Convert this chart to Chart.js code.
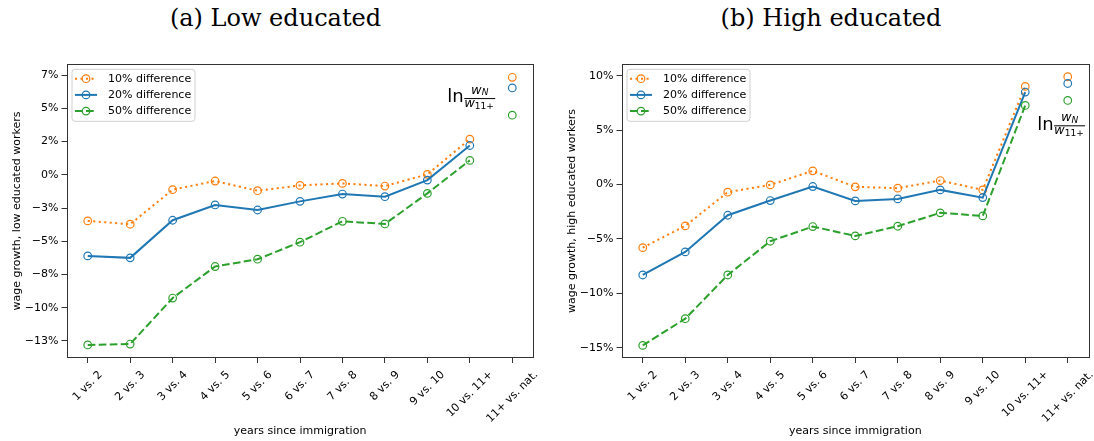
<!DOCTYPE html>
<html>
<head>
<meta charset="utf-8">
<script src="https://cdn.jsdelivr.net/npm/chart.js@4.4.1/dist/chart.umd.min.js"></script>
<style>
  body { margin: 0; background: #fff; width: 1094px; height: 441px; position: relative; overflow: hidden; }
  canvas { position: absolute; top: 0; }
  .ttl { position: absolute; top: 4px; font-family: "DejaVu Serif"; font-size: 24px; text-align: center; color: #000; white-space: nowrap; }
</style>
</head>
<body>
<div class="ttl" style="left:0;width:551px">(a) Low educated</div>
<div class="ttl" style="left:547px;width:568px">(b) High educated</div>
<canvas id="low" width="547" height="441" style="left:0"></canvas>
<canvas id="high" width="547" height="441" style="left:547px"></canvas>
<script>
// categories
const periods = ['1 vs. 2', '2 vs. 3', '3 vs. 4', '4 vs. 5', '5 vs. 6', '6 vs. 7',
                 '7 vs. 8', '8 vs. 9', '9 vs. 10', '10 vs. 11+', '11+ vs. nat.'];

// low educated, % wage growth
const lowTen    = [-3.47, -3.72, -1.12, -0.47, -1.2, -0.8, -0.65, -0.85, 0.03, 2.68];
const lowTwenty = [-6.1, -6.25, -3.42, -2.27, -2.65, -2.0, -1.45, -1.65, -0.4, 2.2];
const lowFifty  = [-12.8, -12.73, -9.27, -6.9, -6.35, -5.07, -3.5, -3.7, -1.4, 1.08];
const lowNative = [7.33, 6.53, 4.48];   // 11+ vs. nat. (10%, 20%, 50%)

// high educated
const highTen    = [-5.8, -3.8, -0.7, -0.03, 1.26, -0.21, -0.33, 0.37, -0.49, 9.02];
const highTwenty = [-8.31, -6.19, -2.82, -1.47, -0.18, -1.5, -1.32, -0.49, -1.2, 8.5];
const highFifty  = [-14.78, -12.33, -8.31, -5.21, -3.86, -4.72, -3.83, -2.6, -2.88, 7.27];
const highNative = [9.91, 9.29, 7.73];

// tick labels
const lowTickVals = [7.5, 5, 2.5, 0, -2.5, -5, -7.5, -10, -12.5];
const lowTickLabels = ['7%', '5%', '2%', '0%', '\u22123%', '\u22125%', '\u22128%', '\u221210%', '\u221213%'];
const highTickVals = [10, 5, 0, -5, -10, -15];
const highTickLabels = ['10%', '5%', '0%', '\u22125%', '\u221210%', '\u221215%'];

const seriesNames = ['10% difference', '20% difference', '50% difference'];
const seriesColors = ['#ff7f0e', '#1f77b4', '#2ca02c'];
const seriesDash = [[2.1, 3.4], [], [7.7, 3.3]];

Chart.defaults.font.family = 'DejaVu Sans';
Chart.defaults.color = '#000';

function buildDatasets(vals, nat) {
  const ds = [];
  vals.forEach(function (v, i) {
    const style = {
      borderColor: seriesColors[i], pointBorderColor: seriesColors[i],
      pointBackgroundColor: 'rgba(0,0,0,0)', borderWidth: 2, borderDash: seriesDash[i],
      pointRadius: 3.8, pointBorderWidth: 1.2, pointHoverRadius: 3.8,
      order: 3 - i, fill: false, tension: 0
    };
    ds.push(Object.assign({ label: seriesNames[i], data: v.concat([null]) }, style));
    ds.push(Object.assign({
      label: '',
      data: periods.map(function (p, k) { return k === periods.length - 1 ? nat[i] : null; }),
      showLine: false
    }, style));
  });
  return ds;
}

function makeChart(id, vals, nat, cfg) {
  const extras = {
    id: 'extras',
    afterDatasetsDraw(chart) {
      const ctx = chart.ctx, a = chart.chartArea;
      ctx.save();
      // frame
      ctx.strokeStyle = '#333';
      ctx.lineWidth = 1;
      ctx.strokeRect(Math.round(a.left) + 0.5, Math.round(a.top) + 0.5,
                     Math.round(a.right - a.left) - 1, Math.round(a.bottom - a.top) - 1);

      // x tick labels, rotated 45deg and centred on the tick (matplotlib style)
      const xs = chart.scales.x;
      ctx.font = '11px "DejaVu Sans"';
      ctx.fillStyle = '#000';
      ctx.textAlign = 'center';
      ctx.textBaseline = 'middle';
      periods.forEach(function (p, k) {
        const tx = xs.getPixelForValue(k);
        const side = (ctx.measureText(p).width + 12.5) * Math.SQRT1_2;
        ctx.save();
        ctx.translate(tx, a.bottom + 5 + 5.5 + side / 2);
        ctx.rotate(-Math.PI / 4);
        ctx.fillText(p, 0, 0);
        ctx.restore();
      });

      // legend box
      const x = a.left + 5.5, y = a.top + 5.3, w = 123, h = 52, r = 3;
      ctx.beginPath();
      ctx.moveTo(x + r, y);
      ctx.arcTo(x + w, y, x + w, y + h, r);
      ctx.arcTo(x + w, y + h, x, y + h, r);
      ctx.arcTo(x, y + h, x, y, r);
      ctx.arcTo(x, y, x + w, y, r);
      ctx.closePath();
      ctx.fillStyle = 'rgba(255,255,255,0.8)';
      ctx.fill();
      ctx.strokeStyle = '#d0d0d0';
      ctx.stroke();
      seriesNames.forEach(function (name, i) {
        const ry = y + 9.4 + i * 16.2;
        ctx.strokeStyle = seriesColors[i];
        ctx.lineWidth = 2;
        ctx.setLineDash(seriesDash[i]);
        ctx.beginPath(); ctx.moveTo(x + 3, ry); ctx.lineTo(x + 25, ry); ctx.stroke();
        ctx.setLineDash([]);
        ctx.lineWidth = 1.2;
        ctx.beginPath(); ctx.arc(x + 14, ry, 3.8, 0, Math.PI * 2); ctx.stroke();
        ctx.fillStyle = '#000';
        ctx.font = '11px "DejaVu Sans"';
        ctx.textBaseline = 'middle';
        ctx.textAlign = 'left';
        ctx.fillText(name, x + 36, ry);
      });

      // ln(w_N / w_11+) label
      const px = chart.scales.x.getPixelForValue(cfg.ann[0]);
      const py = chart.scales.y.getPixelForValue(cfg.ann[1]);
      ctx.fillStyle = '#000';
      ctx.textBaseline = 'alphabetic';
      ctx.textAlign = 'left';
      ctx.font = '18px "DejaVu Sans"';
      ctx.fillText('ln', px, py + 3.8);
      const bx = px + ctx.measureText('ln').width + 0.5, bw = 31;
      ctx.fillRect(bx, py - 0.5, bw, 1);
      ctx.font = 'italic 13px "DejaVu Sans"';
      const wW = ctx.measureText('w').width;
      ctx.font = 'italic 9px "DejaVu Sans"';
      const nW = ctx.measureText('N').width;
      const nx = bx + (bw - wW - nW) / 2;
      ctx.font = 'italic 13px "DejaVu Sans"';
      ctx.fillText('w', nx, py - 5);
      ctx.fillText('w', bx, py + 8.5);
      ctx.font = 'italic 9px "DejaVu Sans"';
      ctx.fillText('N', nx + wW, py - 3.3);
      ctx.font = '9px "DejaVu Sans"';
      ctx.fillText('11+', bx + wW, py + 10.5);
      ctx.restore();
    }
  };

  return new Chart(document.getElementById(id), {
    type: 'line',
    data: { labels: periods, datasets: buildDatasets(vals, nat) },
    options: {
      responsive: false,
      animation: false,
      layout: { padding: { left: 0, right: cfg.padRight, top: 64, bottom: 0 } },
      plugins: { legend: { display: false }, tooltip: { enabled: false } },
      scales: {
        x: {
          offset: true,
          grid: { display: true, drawOnChartArea: false, drawTicks: true, tickLength: 5, color: '#333', offset: false },
          border: { display: false },
          ticks: { display: false, autoSkip: false },
          title: { display: true, text: 'years since immigration', font: { size: 11 }, color: '#000', padding: { top: 0, bottom: 3.4 } },
          afterFit(s) { s.height = 83; s.paddingLeft = 0; s.paddingRight = 0; }
        },
        y: {
          min: cfg.yMin, max: cfg.yMax,
          grid: { display: true, drawOnChartArea: false, drawTicks: true, tickLength: 5, color: '#333' },
          border: { display: false },
          ticks: {
            font: { size: 11 }, color: '#000', padding: 3,
            callback: function (v) { return cfg.tickLabels[cfg.tickVals.indexOf(v)]; }
          },
          afterBuildTicks(s) { s.ticks = cfg.tickVals.slice().reverse().map(function (v) { return { value: v }; }); },
          title: { display: true, text: cfg.yTitle, font: { size: 11 }, color: '#000', padding: { top: cfg.yTitlePad, bottom: 0 } },
          afterFit(s) { s.width = cfg.yWidth; s.paddingTop = 0; s.paddingBottom = 0; }
        }
      }
    },
    plugins: [extras]
  });
}

makeChart('low', [lowTen, lowTwenty, lowFifty], lowNative, {
  yMin: -13.78, yMax: 8.33, tickVals: lowTickVals, tickLabels: lowTickLabels,
  yTitle: 'wage growth, low educated workers', yWidth: 66.5, padRight: 13.5, yTitlePad: 11,
  ann: [8.47, 5.73]
});

makeChart('high', [highTen, highTwenty, highFifty], highNative, {
  yMin: -15.94, yMax: 11.08, tickVals: highTickVals, tickLabels: highTickLabels,
  yTitle: 'wage growth, high educated workers', yWidth: 74.5, padRight: 4, yTitlePad: 19,
  ann: [9.28, 5.4]
});
</script>
</body>
</html>
